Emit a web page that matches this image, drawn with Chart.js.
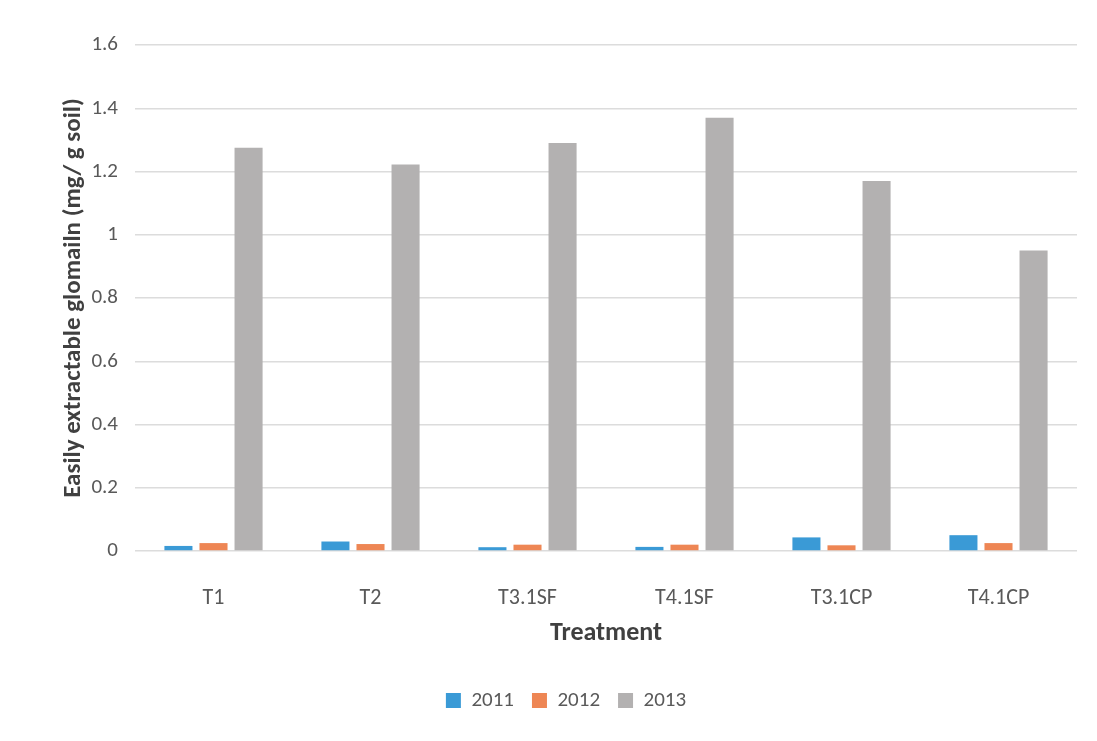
<!DOCTYPE html>
<html>
<head>
<meta charset="utf-8">
<script src="https://cdn.jsdelivr.net/npm/chart.js@4"></script>
<style>
    html, body { margin: 0; padding: 0; background: #ffffff; }
    .chart-container { width: 1097px; height: 741px; }
</style>
</head>
<body>
<div class="chart-container"><canvas id="mainChart"></canvas></div>
<script>
// Data
const treatments = ['T1', 'T2', 'T3.1SF', 'T4.1SF', 'T3.1CP', 'T4.1CP'];
const values2011 = [0.016, 0.03, 0.012, 0.013, 0.043, 0.05];
const values2012 = [0.025, 0.022, 0.02, 0.02, 0.018, 0.025];
const values2013 = [1.275, 1.222, 1.29, 1.37, 1.17, 0.95];
const yTicks = [0, 0.2, 0.4, 0.6, 0.8, 1, 1.2, 1.4, 1.6];

const tickColor = '#595959';
const fontFamily = 'Carlito, Calibri, Lato, sans-serif';

function makeSeries(label, data, color) {
    return {
        label: label,
        data: data,
        backgroundColor: color,
        borderWidth: 0,
        categoryPercentage: 0.67,
        barPercentage: 0.8
    };
}

function createChart() {
    const ctx = document.getElementById('mainChart').getContext('2d');

    new Chart(ctx, {
        type: 'bar',
        data: {
            labels: treatments,
            datasets: [
                makeSeries('2011', values2011, '#3A9AD6'),
                makeSeries('2012', values2012, '#EE8654'),
                makeSeries('2013', values2013, '#B3B1B1')
            ]
        },
        options: {
            responsive: true,
            maintainAspectRatio: false,
            animation: false,
            layout: {
                padding: { left: 55, right: 20, top: 45, bottom: 20 }
            },
            plugins: {
                legend: {
                    display: true,
                    position: 'bottom',
                    labels: {
                        boxWidth: 15,
                        boxHeight: 15,
                        padding: 18,
                        color: tickColor,
                        font: { family: fontFamily, size: 21 }
                    }
                },
                tooltip: { enabled: false }
            },
            scales: {
                x: {
                    grid: { display: false },
                    border: { display: false },
                    ticks: {
                        color: tickColor,
                        padding: 26,
                        font: { family: fontFamily, size: 22 }
                    },
                    title: {
                        display: true,
                        text: 'Treatment',
                        color: '#404040',
                        padding: { top: 4, bottom: 23 },
                        font: { family: fontFamily, size: 26, weight: 'bold' }
                    },
                    afterFit: function(scale) { scale.height = 121; }
                },
                y: {
                    min: 0,
                    max: 1.6,
                    afterBuildTicks: function(scale) {
                        scale.ticks = yTicks.map(v => ({ value: v }));
                    },
                    grid: { color: '#DCDCDC', lineWidth: 1.5, drawTicks: false },
                    border: { display: false },
                    ticks: {
                        color: tickColor,
                        padding: 17,
                        font: { family: fontFamily, size: 21 },
                        callback: function(value) { return String(value); }
                    },
                    title: {
                        display: true,
                        text: 'Easily extractable glomailn (mg/ g soil)',
                        color: '#404040',
                        font: { family: fontFamily, size: 25, weight: 'bold' }
                    },
                    afterFit: function(scale) { scale.width = 80; }
                }
            }
        }
    });
}

document.addEventListener('DOMContentLoaded', createChart);
</script>
</body>
</html>
